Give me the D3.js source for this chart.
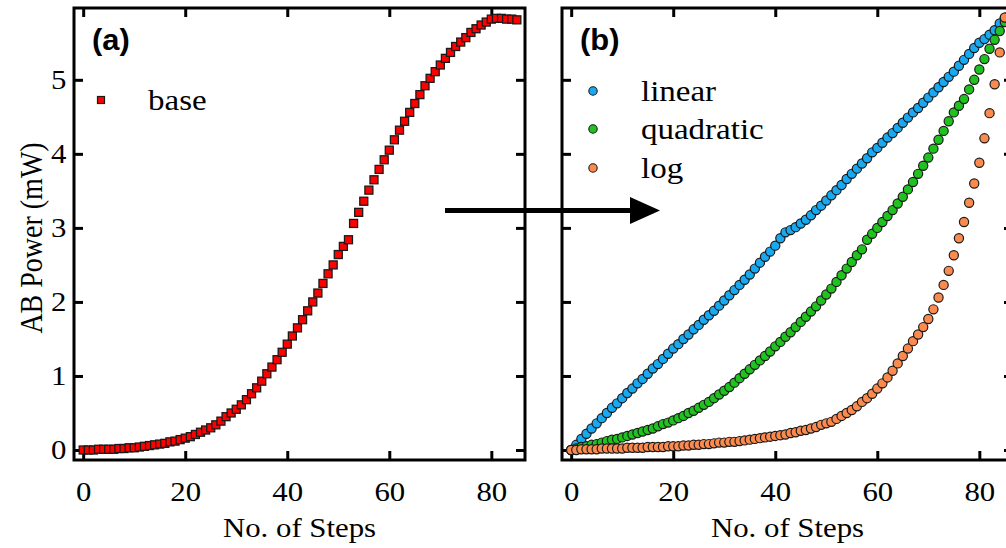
<!DOCTYPE html>
<html><head><meta charset="utf-8">
<script src="https://cdn.jsdelivr.net/npm/d3@7"></script>
<style>
html,body{margin:0;padding:0;background:#fff;}
svg{display:block;}
</style></head><body>
<svg id="chart" width="1006" height="548"></svg>
<script>
// ---------- data ----------
const steps = d3.range(0, 86);
const base = [0.00,0.00,0.00,0.01,0.01,0.01,0.01,0.02,0.02,0.03,
  0.03,0.04,0.05,0.06,0.07,0.08,0.09,0.11,0.12,0.14,
  0.16,0.18,0.21,0.24,0.27,0.30,0.34,0.39,0.45,0.50,
  0.55,0.61,0.68,0.76,0.84,0.93,1.03,1.12,1.22,1.32,
  1.43,1.54,1.65,1.76,1.88,2.00,2.12,2.25,2.38,2.50,
  2.64,2.75,2.84,3.06,3.21,3.36,3.51,3.65,3.79,3.92,
  4.05,4.19,4.32,4.44,4.56,4.68,4.80,4.92,5.02,5.11,
  5.20,5.29,5.37,5.45,5.51,5.57,5.64,5.69,5.74,5.78,
  5.82,5.83,5.83,5.82,5.82,5.81];
const linear = [0.00,0.07,0.15,0.22,0.29,0.36,0.43,0.50,0.57,0.63,
  0.70,0.77,0.83,0.90,0.96,1.03,1.10,1.16,1.23,1.30,
  1.37,1.43,1.50,1.56,1.63,1.69,1.76,1.82,1.88,1.95,
  2.02,2.09,2.16,2.23,2.30,2.37,2.45,2.53,2.61,2.68,
  2.76,2.86,2.94,2.97,3.01,3.06,3.11,3.17,3.24,3.30,
  3.37,3.44,3.51,3.58,3.66,3.73,3.80,3.87,3.94,4.02,
  4.08,4.15,4.22,4.28,4.35,4.42,4.49,4.56,4.62,4.69,
  4.76,4.83,4.90,4.97,5.04,5.11,5.19,5.27,5.35,5.43,
  5.50,5.55,5.61,5.67,5.76,5.84];
const quadratic = [0.00,0.02,0.04,0.05,0.07,0.08,0.10,0.12,0.14,0.15,
  0.17,0.19,0.21,0.23,0.25,0.27,0.29,0.32,0.35,0.37,
  0.40,0.43,0.46,0.50,0.53,0.57,0.61,0.65,0.70,0.75,
  0.80,0.85,0.91,0.97,1.03,1.09,1.15,1.21,1.27,1.33,
  1.40,1.46,1.53,1.59,1.66,1.73,1.80,1.87,1.94,2.02,
  2.10,2.18,2.27,2.36,2.45,2.54,2.63,2.71,2.84,2.92,
  3.00,3.08,3.16,3.24,3.33,3.42,3.52,3.62,3.73,3.84,
  3.95,4.07,4.19,4.31,4.44,4.56,4.65,4.74,4.87,5.00,
  5.14,5.28,5.42,5.54,5.66,5.78];
const logSeries = [0.00,0.00,0.01,0.01,0.01,0.01,0.02,0.02,0.02,0.02,
  0.02,0.03,0.03,0.03,0.03,0.04,0.04,0.04,0.04,0.05,
  0.05,0.05,0.06,0.06,0.07,0.07,0.08,0.08,0.09,0.10,
  0.10,0.11,0.11,0.12,0.13,0.14,0.15,0.16,0.17,0.18,
  0.19,0.20,0.21,0.23,0.24,0.26,0.27,0.29,0.31,0.34,
  0.36,0.38,0.42,0.46,0.50,0.54,0.59,0.65,0.70,0.76,
  0.83,0.90,0.98,1.07,1.17,1.27,1.37,1.47,1.56,1.66,
  1.77,1.90,2.06,2.23,2.42,2.63,2.86,3.08,3.34,3.60,
  3.88,4.21,4.55,4.94,5.37,5.84];
const xTicks = [0, 20, 40, 60, 80];
const yTicks = [0, 1, 2, 3, 4, 5];
const seriesNames = ["linear", "quadratic", "log"];
const seriesValues = [linear, quadratic, logSeries];
const seriesColors = ["#19a9f0", "#1fc21f", "#fb8a4f"];
const baseName = "base";
const baseColor = "#ff0000";
const xTitle = "No. of Steps";
const yTitle = "AB Power (mW)";

// ---------- layout ----------
const svg = d3.select("#chart");
const plotTop = 8, plotBottom = 460;
const panels = [
  {left: 74, right: 525, label: "(a)", yLabels: true},
  {left: 562, right: 1013, label: "(b)", yLabels: false}
];
const xDomain = [-1.8, 86.6];
const yDomain = [-0.135, 5.97];
const serif = "'Liberation Serif','Times New Roman',Times,serif";
const sans = "'Liberation Sans',Arial,Helvetica,sans-serif";
const SX = 1.1; // horizontal stretch of text as in the reference

const y = d3.scaleLinear().domain(yDomain).range([plotBottom, plotTop]);

function styleAxis(g) {
  g.select(".domain").remove();
  g.selectAll(".tick line").attr("stroke", "#000").attr("stroke-width", 3);
  g.selectAll(".tick text").attr("font-family", serif).attr("font-size", 28).attr("fill", "#000");
}

panels.forEach((p, i) => {
  const x = d3.scaleLinear().domain(xDomain).range([p.left, p.right]);
  p.x = x;
  const g = svg.append("g");
  svg.append("clipPath").attr("id", "clip" + i).append("rect")
    .attr("x", p.left).attr("y", plotTop).attr("width", p.right - p.left).attr("height", plotBottom - plotTop);

  const gb = g.append("g").attr("transform", `translate(0,${plotBottom})`)
    .call(d3.axisBottom(x).tickValues(xTicks).tickSizeInner(-9).tickSizeOuter(0).tickPadding(21).tickFormat(d3.format("d")));
  styleAxis(gb);
  gb.selectAll(".tick text").attr("transform", `scale(${SX},1)`);
  const gt = g.append("g").attr("transform", `translate(0,${plotTop})`)
    .call(d3.axisTop(x).tickValues(xTicks).tickSizeInner(-9).tickSizeOuter(0).tickFormat(""));
  styleAxis(gt);
  const gl = g.append("g").attr("transform", `translate(${p.left},0)`)
    .call(d3.axisLeft(y).tickValues(yTicks).tickSizeInner(-9).tickSizeOuter(0).tickPadding(7)
      .tickFormat(p.yLabels ? d3.format("d") : ""));
  styleAxis(gl);
  gl.selectAll(".tick text").attr("transform", `scale(${SX},1)`);
  const gr = g.append("g").attr("transform", `translate(${p.right},0)`)
    .call(d3.axisRight(y).tickValues(yTicks).tickSizeInner(-9).tickSizeOuter(0).tickFormat(""));
  styleAxis(gr);

  g.append("rect").attr("x", p.left).attr("y", plotTop)
    .attr("width", p.right - p.left).attr("height", plotBottom - plotTop)
    .attr("fill", "none").attr("stroke", "#000").attr("stroke-width", 3);

  g.append("text")
    .attr("transform", `translate(${(p.left + p.right) / 2},537) scale(${SX},1)`)
    .attr("text-anchor", "middle").attr("font-family", serif).attr("font-size", 28)
    .text(xTitle);

  g.append("text")
    .attr("transform", `translate(${p.left + 18},50) scale(1.03,1)`)
    .attr("font-family", sans).attr("font-weight", "bold").attr("font-size", 30)
    .text(p.label);
});

svg.append("text")
  .attr("transform", `translate(42,238) scale(${SX},1) rotate(-90)`)
  .attr("text-anchor", "middle").attr("font-family", serif).attr("font-size", 28)
  .text(yTitle);

// ---------- panel (a) data ----------
const xa = panels[0].x;
const ga = svg.append("g").attr("clip-path", "url(#clip0)");
const sq = 8;
ga.selectAll("rect.pt").data(steps).join("rect").attr("class", "pt")
  .attr("x", d => xa(d) - sq / 2).attr("y", (d, i) => y(base[i]) - sq / 2)
  .attr("width", sq).attr("height", sq)
  .attr("fill", baseColor).attr("stroke", "#1a1a1a").attr("stroke-width", 1.3);

svg.append("rect").attr("x", 101 - 3.5).attr("y", 100 - 3.5).attr("width", 7).attr("height", 7)
  .attr("fill", baseColor).attr("stroke", "#1a1a1a").attr("stroke-width", 1.2);
svg.append("text").attr("transform", `translate(148,110) scale(${SX},1)`)
  .attr("font-family", serif).attr("font-size", 30).text(baseName);

// ---------- panel (b) data ----------
const xb = panels[1].x;
const gbp = svg.append("g").attr("clip-path", "url(#clip1)");
seriesValues.forEach((vals, k) => {
  gbp.append("g").selectAll("circle").data(steps).join("circle")
    .attr("cx", d => xb(d)).attr("cy", (d, i) => y(vals[i])).attr("r", 4.6)
    .attr("fill", seriesColors[k]).attr("stroke", "#1a1a1a").attr("stroke-width", 1.2);
});

const legY = [91, 129, 168];
seriesNames.forEach((n, k) => {
  svg.append("circle").attr("cx", 593).attr("cy", legY[k]).attr("r", 4.2)
    .attr("fill", seriesColors[k]).attr("stroke", "#1a1a1a").attr("stroke-width", 1.1);
  svg.append("text").attr("transform", `translate(641,${legY[k] + 10}) scale(${SX},1)`)
    .attr("font-family", serif).attr("font-size", 30).text(n);
});

// ---------- arrow ----------
svg.append("line").attr("x1", 445).attr("y1", 210.5).attr("x2", 633).attr("y2", 210.5)
  .attr("stroke", "#000").attr("stroke-width", 5);
svg.append("polygon").attr("points", "630,197 660,210.5 630,224").attr("fill", "#000");
</script>
</body></html>
